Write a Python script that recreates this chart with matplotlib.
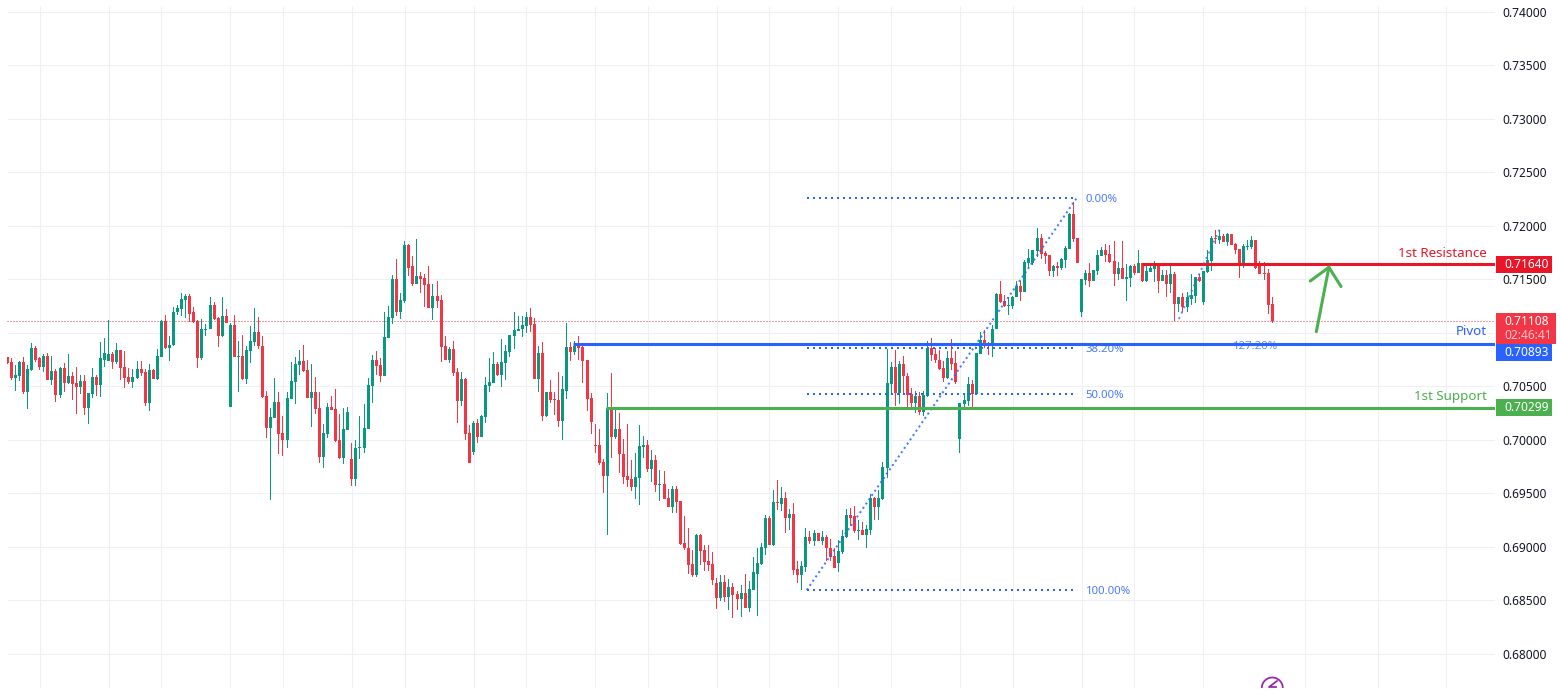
import numpy as np
import matplotlib
matplotlib.use("Agg")
import matplotlib.pyplot as plt
from matplotlib.patches import Rectangle, Arc
from matplotlib.transforms import IdentityTransform

plt.rcParams['font.family'] = ['Noto Sans', 'DejaVu Sans']

# candles (price * 10000)
highs = np.array([
    7077,7076,7070,7074,7077,7070,7090,7088,7077,7080,
    7081,7078,7066,7068,7072,7080,7063,7068,7061,7061,
    7044,7067,7061,7091,7095,7112,7082,7090,7084,7083,
    7067,7066,7074,7074,7066,7071,7066,7085,7112,7117,
    7097,7124,7126,7137,7136,7136,7124,7112,7113,7108,
    7133,7129,7115,7133,7122,7109,7117,7092,7098,7088,
    7106,7123,7115,7097,7046,7030,7058,7045,7022,7045,
    7073,7077,7084,7089,7075,7071,7059,7045,7015,7034,
    7041,7047,7024,7030,7031,6997,7000,7022,7033,7058,
    7079,7083,7076,7119,7125,7154,7169,7137,7186,7183,
    7172,7188,7157,7155,7162,7146,7148,7135,7097,7087,
    7092,7067,7063,7058,7014,7018,7019,7023,7059,7076,
    7082,7073,7094,7089,7098,7119,7116,7116,7119,7123,
    7114,7088,7091,7045,7056,7045,7063,7060,7109,7091,
    7092,7097,7088,7075,7044,7015,7010,6982,7044,7062,
    7029,7025,7001,7015,6981,6988,7014,7004,7000,6990,
    6986,6972,6971,6954,6957,6957,6943,6929,6918,6897,
    6912,6912,6902,6902,6895,6871,6874,6874,6870,6866,
    6859,6864,6875,6868,6890,6899,6904,6930,6929,6953,
    6962,6956,6951,6935,6941,6887,6887,6918,6915,6916,
    6913,6915,6911,6907,6899,6906,6916,6935,6936,6938,
    6925,6923,6920,6949,6947,6953,6979,7085,7073,7084,
    7074,7078,7062,7048,7046,7045,7046,7092,7095,7086,
    7084,7074,7083,7094,7083,7034,7043,7059,7056,7081,
    7101,7103,7091,7107,7137,7148,7135,7133,7134,7148,
    7148,7168,7178,7177,7198,7192,7176,7173,7163,7166,
    7170,7181,7212,7222,7189,7150,7159,7165,7159,7177,
    7180,7183,7182,7186,7166,7186,7164,7163,7164,7177,
    7165,7164,7163,7167,7164,7159,7159,7164,7157,7133,
    7137,7138,7155,7152,7155,7158,7177,7190,7196,7196,
    7192,7193,7192,7184,7178,7183,7187,7190,7187,7167,
    7166,7160,7133]) / 10000

lows = np.array([
    7071,7056,7046,7055,7043,7029,7064,7073,7065,7063,
    7056,7051,7035,7039,7045,7052,7037,7024,7043,7023,
    7015,7039,7041,7040,7068,7074,7066,7071,7056,7048,
    7052,7048,7057,7060,7032,7027,7057,7056,7077,7085,
    7074,7088,7117,7116,7114,7110,7109,7067,7075,7097,
    7104,7112,7087,7096,7109,7031,7077,7045,7056,7052,
    7072,7088,7085,7039,7002,6944,7020,6987,6985,6992,
    7038,7033,7061,7063,7039,7012,7024,6978,6974,7002,
    7028,6998,6982,6977,7009,6957,6957,6982,6988,7010,
    7034,7061,7054,7060,7095,7108,7116,7113,7128,7153,
    7144,7146,7137,7124,7123,7112,7123,7073,7075,7072,
    7060,7016,7032,7000,6978,6986,6997,7003,7016,7045,
    7053,7060,7049,7056,7077,7085,7102,7096,7100,7101,
    7057,7045,7018,7021,7034,7023,7012,7000,7038,7074,
    7079,7075,7053,7027,7005,6988,6976,6950,6911,6983,
    7001,6969,6959,6956,6952,6945,6939,6983,6970,6961,
    6951,6943,6945,6937,6932,6932,6902,6897,6875,6872,
    6872,6883,6877,6877,6864,6842,6849,6848,6841,6833,
    6841,6834,6843,6839,6860,6835,6883,6892,6902,6901,
    6934,6933,6913,6916,6874,6866,6860,6876,6903,6901,
    6905,6902,6887,6887,6880,6876,6893,6908,6919,6913,
    6906,6911,6899,6911,6925,6925,6944,6964,7043,7032,
    7033,7043,7029,7030,7025,7023,7022,7040,7074,7072,
    7065,7054,7057,7065,7052,6988,7028,7032,7030,7043,
    7080,7086,7079,7077,7104,7128,7124,7117,7122,7133,
    7130,7138,7161,7163,7171,7169,7164,7153,7152,7153,
    7159,7161,7178,7185,7165,7115,7145,7143,7148,7154,
    7172,7166,7165,7144,7149,7150,7130,7143,7154,7156,
    7147,7147,7157,7147,7137,7148,7133,7137,7111,7119,
    7119,7119,7126,7128,7147,7126,7156,7158,7183,7183,
    7185,7181,7182,7174,7151,7161,7177,7178,7160,7155,
    7149,7118,7109]) / 10000

opens = np.array([
    7077,7073,7058,7060,7073,7045,7065,7086,7076,7068,
    7078,7056,7064,7042,7067,7053,7060,7053,7049,7055,
    7030,7043,7059,7051,7075,7074,7080,7073,7084,7068,
    7059,7054,7058,7066,7063,7034,7065,7057,7077,7111,
    7086,7089,7119,7122,7131,7134,7119,7111,7076,7103,
    7104,7126,7114,7097,7116,7031,7107,7077,7078,7057,
    7083,7091,7101,7088,7041,7011,7020,7035,7006,7000,
    7038,7054,7070,7074,7065,7039,7045,7030,6984,7005,
    7031,7029,7000,6983,7009,6982,6963,6992,6992,7010,
    7050,7075,7070,7060,7095,7114,7150,7119,7130,7182,
    7162,7146,7153,7151,7146,7123,7134,7131,7088,7075,
    7085,7063,7036,7057,7006,6989,7016,7003,7021,7050,
    7053,7071,7061,7072,7082,7097,7102,7104,7106,7115,
    7108,7057,7081,7022,7045,7038,7037,7018,7046,7087,
    7082,7089,7087,7075,7039,6995,6995,6979,6966,7030,
    7003,7010,6987,6966,6963,6956,6964,6993,6995,6973,
    6981,6958,6959,6946,6937,6954,6943,6904,6899,6884,
    6874,6911,6897,6887,6884,6866,6852,6867,6853,6862,
    6856,6851,6857,6843,6860,6875,6884,6899,6927,6902,
    6942,6940,6946,6927,6931,6879,6874,6881,6909,6905,
    6913,6905,6909,6899,6891,6885,6895,6909,6930,6929,
    6915,6916,6911,6916,6946,6937,6945,6974,7052,7068,
    7044,7071,7060,7043,7034,7041,7026,7041,7086,7080,
    7075,7067,7058,7076,7072,7001,7033,7036,7052,7043,
    7080,7093,7090,7088,7104,7136,7130,7125,7125,7133,
    7144,7138,7165,7165,7176,7189,7175,7173,7158,7162,
    7161,7168,7178,7211,7189,7119,7149,7156,7148,7158,
    7172,7177,7174,7167,7155,7161,7150,7151,7162,7156,
    7165,7148,7157,7160,7163,7148,7154,7146,7155,7127,
    7133,7124,7132,7134,7152,7129,7157,7167,7189,7187,
    7190,7185,7192,7183,7178,7164,7180,7180,7187,7163,
    7156,7156,7127]) / 10000

closes = np.array([
    7072,7058,7061,7073,7045,7066,7086,7075,7068,7078,
    7056,7064,7042,7067,7053,7060,7052,7049,7055,7030,
    7044,7059,7051,7076,7081,7080,7073,7084,7067,7058,
    7054,7059,7066,7062,7034,7065,7057,7078,7111,7086,
    7089,7119,7123,7132,7134,7118,7110,7076,7104,7104,
    7126,7113,7097,7116,7109,7107,7077,7078,7057,7084,
    7092,7101,7088,7040,7011,7021,7035,7005,7000,7039,
    7055,7071,7074,7064,7039,7045,7029,6984,7006,7031,
    7028,6999,6983,7010,7026,6963,6992,6993,7011,7051,
    7075,7069,7060,7096,7115,7150,7119,7131,7182,7161,
    7146,7153,7150,7145,7123,7134,7130,7087,7075,7085,
    7062,7036,7057,7005,6978,7016,7003,7022,7051,7054,
    7071,7061,7073,7083,7098,7103,7104,7107,7115,7107,
    7057,7081,7022,7045,7037,7037,7018,7047,7087,7082,
    7088,7086,7074,7038,7017,6994,6978,6966,7030,7003,
    7010,6987,6965,6962,6956,6965,6994,6995,6973,6981,
    6958,6959,6945,6937,6954,6942,6903,6899,6883,6874,
    6911,6896,6886,6883,6869,6852,6867,6853,6862,6855,
    6851,6857,6843,6861,6876,6885,6900,6927,6902,6942,
    6941,6946,6927,6931,6878,6874,6882,6909,6905,6913,
    6905,6909,6899,6890,6880,6896,6910,6930,6927,6915,
    6916,6911,6917,6946,6937,6946,6975,7053,7068,7044,
    7071,7060,7042,7034,7041,7026,7042,7086,7079,7075,
    7066,7058,7076,7071,7054,7034,7037,7052,7043,7081,
    7093,7089,7088,7104,7136,7129,7125,7126,7133,7144,
    7138,7166,7170,7177,7189,7174,7172,7158,7162,7161,
    7169,7179,7211,7188,7165,7150,7156,7148,7159,7173,
    7177,7173,7166,7155,7161,7150,7152,7162,7156,7165,
    7148,7158,7161,7163,7148,7154,7146,7155,7127,7133,
    7124,7133,7135,7152,7148,7158,7168,7189,7188,7190,
    7185,7192,7182,7177,7164,7181,7181,7187,7161,7155,
    7155,7126,7110.8]) / 10000

price_ticks = [0.68, 0.685, 0.69, 0.695, 0.70, 0.705, 0.71, 0.715, 0.72, 0.725, 0.73, 0.735, 0.74]
grid_bars = [8, 25, 38, 55, 68, 85, 98, 115, 128, 145, 158, 175, 188, 205, 218, 235, 248, 265, 278, 295, 320, 338, 355]

resistance = 0.71640
pivot = 0.70893
support = 0.70299
last_price = 0.71108

fib_levels = [0.7226, 0.70858, 0.70428, 0.68596]
fib_labels = ["0.00%", "38.20%", "50.00%", "100.00%"]

green = "#089981"
red = "#f23645"
blue = "#2962ff"
line_green = "#4caf50"
line_red = "#e91628"
grid_col = "#eff0f3"

fig = plt.figure(figsize=(15.61, 6.92), dpi=100)
ax = fig.add_axes([7 / 1561, 0, 1488 / 1561, 1])
bar_px = 4.054
ax.set_xlim(-0.074, 366.97)
ax.set_ylim(0.67643, 0.74110)
for s in ax.spines.values():
    s.set_visible(False)

ax.yaxis.tick_right()
ax.set_yticks(price_ticks)
# 0.71000 sits behind the last price box in the reference, so no label for it
ax.set_yticklabels(["" if t == 0.71 else "%.5f" % t for t in price_ticks], fontsize=8.6, color="#131722")
ax.tick_params(axis="y", length=0, pad=5.5)
ax.set_xticks([])
ax.hlines(price_ticks, -0.074, 366.97, color=grid_col, lw=0.8, zorder=1)
ax.vlines(grid_bars, 0.67680, 0.7405, color=grid_col, lw=0.8, zorder=1)

# candles, wicks as thin bars so they stay one pixel wide
x = np.arange(len(closes))
up = closes >= opens
colors = np.where(up, green, red)
ax.bar(x, highs - lows, width=1 / bar_px, bottom=lows, color=colors, linewidth=0, zorder=3)
ax.bar(x, np.abs(closes - opens), width=3 / bar_px, bottom=np.minimum(opens, closes),
       color=colors, linewidth=0, zorder=3)

# last price line
ax.hlines(last_price, -0.074, 366.97, color=red, lw=0.72, linestyle=(0, (1, 2)), zorder=2)

# fib retracement
for lev, lab in zip(fib_levels, fib_labels):
    ax.plot([197.2, 263.8], [lev, lev], color=blue, lw=1.44, linestyle=(0, (1, 2)), zorder=4)
    ax.text(266.0, lev - 0.00012, lab, color=blue, alpha=0.85, fontsize=8.2, va="center", ha="left", zorder=4)
ax.plot([197.2, 263.8], [0.68596, 0.7226], color=blue, lw=1.44, linestyle=(0, (1, 1.6)), alpha=0.85, zorder=4)
ax.plot([289, 299.4], [0.71129, 0.71998], color=blue, lw=1.44, linestyle=(0, (1, 2)), alpha=0.75, zorder=4)
ax.plot([289, 300], [0.70886, 0.70886], color=blue, lw=1.2, linestyle=(0, (1, 2)), alpha=0.8, zorder=4)
ax.text(302.3, 0.70886 - 0.00012, "127.20%", color=blue, alpha=0.75, fontsize=8.2, va="center", ha="left", zorder=4)

# levels
ax.plot([139.5, 366.97], [pivot, pivot], color=blue, lw=2.2, solid_capstyle="butt", zorder=5)
ax.plot([147.7, 366.97], [support, support], color=line_green, lw=2.2, solid_capstyle="butt", zorder=5)
ax.plot([279.9, 366.97], [resistance, resistance], color=line_red, lw=2.2, solid_capstyle="butt", zorder=5)
ax.text(365, resistance + 0.00105, "1st Resistance", color=line_red, fontsize=9.6, ha="right", va="center", zorder=6)
ax.text(365, pivot + 0.00115, "Pivot", color=blue, fontsize=9.6, ha="right", va="center", zorder=6)
ax.text(365, support + 0.00105, "1st Support", color=line_green, fontsize=9.6, ha="right", va="center", zorder=6)

# arrow
ax.plot([322.9, 326.0], [0.71010, 0.71612], color=line_green, lw=2.2, zorder=6, solid_capstyle="round")
ax.plot([321.4, 326.0, 329.0], [0.71484, 0.71612, 0.71432], color=line_green, lw=2.2, zorder=6,
        solid_capstyle="round", solid_joinstyle="miter")

# price boxes on the scale
tr = ax.get_yaxis_transform()
box_x = 1 + 1 / 1488
def price_box(top, bottom, wide, col):
    ax.add_patch(Rectangle((box_x, bottom), wide / 1488, top - bottom, transform=tr, color=col,
                           lw=0, clip_on=False, zorder=7))

price_box(0.71718, 0.71562, 56, line_red)
price_box(0.71185, 0.70895, 60, red)
price_box(0.70895, 0.70738, 56, blue)
price_box(0.70381, 0.70225, 56, line_green)

text_x = 1 + 9 / 1488
labels = [(0.71640, "%.5f" % resistance), (0.70817, "%.5f" % pivot), (0.70303, "%.5f" % support), (0.71101, "%.5f" % last_price)]
for val, lab in labels:
    ax.text(text_x, val, lab, transform=tr, color="white", fontsize=8.6, fontweight="bold",
            ha="left", va="center", clip_on=False, zorder=8)
ax.text(text_x, 0.70970, "02:46:41", transform=tr, color="white", alpha=0.7, fontsize=8.6,
        ha="left", va="center", clip_on=False, zorder=8)

# small icon at the bottom edge, only its top half shows
fig.add_artist(Arc((1272.3, 4), 21, 21, theta1=0, theta2=180, transform=IdentityTransform(),
                   ec="#9c27b0", lw=1.3))
fig.add_artist(plt.Line2D([1277, 1269, 1276], [11, 5, 5], transform=IdentityTransform(),
                          color="#9c27b0", lw=1.3))

fig.savefig("out.png", dpi=100, facecolor="white")
